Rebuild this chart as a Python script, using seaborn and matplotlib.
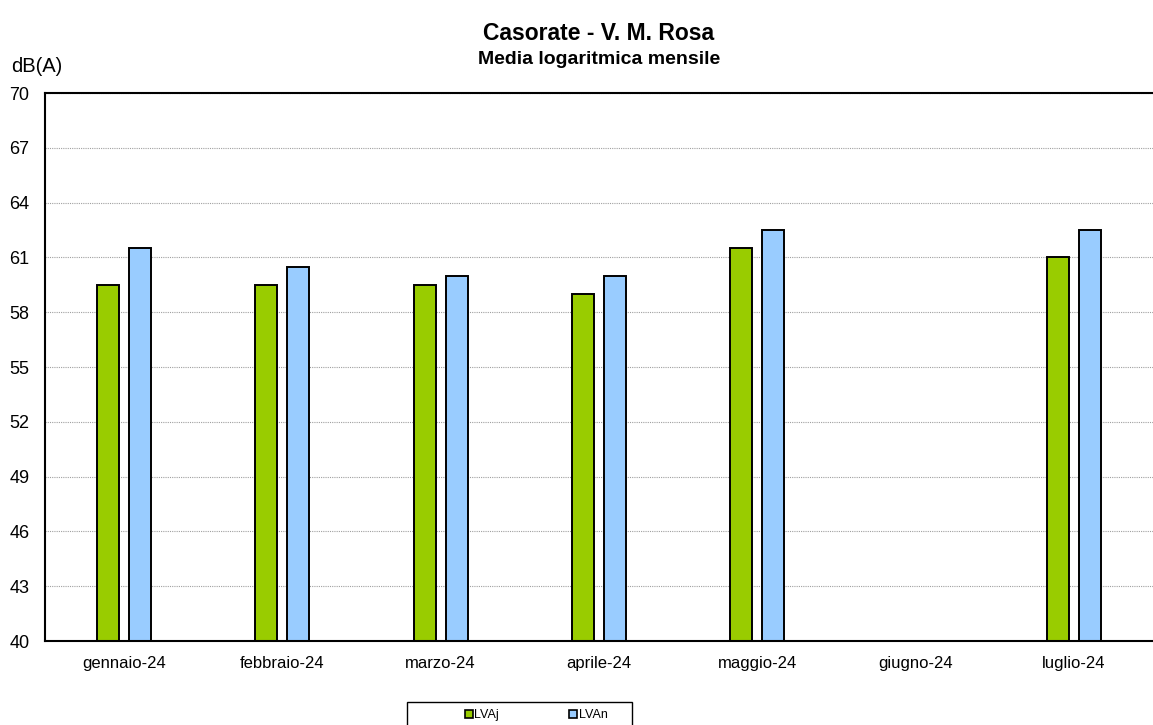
import pandas as pd
import numpy as np
import matplotlib
matplotlib.use('Agg')
import matplotlib.pyplot as plt
import matplotlib.patches as mpatches
import seaborn as sns
from matplotlib.ticker import FixedLocator

months = ['gennaio-24', 'febbraio-24', 'marzo-24', 'aprile-24', 'maggio-24', 'giugno-24', 'luglio-24']
lvaj = [59.5, 59.5, 59.5, 59.0, 61.5, np.nan, 61.0]
lvan = [61.5, 60.5, 60.0, 60.0, 62.5, np.nan, 62.5]
yticks = [40, 43, 46, 49, 52, 55, 58, 61, 64, 67, 70]

df = pd.DataFrame({
    'Mese': months * 2,
    'Serie': ['LVAj'] * len(months) + ['LVAn'] * len(months),
    'Valore': lvaj + lvan,
})

sns.set_theme(style='white')
plt.rcParams['font.family'] = ['Liberation Sans', 'DejaVu Sans']
plt.rcParams['text.color'] = 'black'
plt.rcParams['xtick.color'] = 'black'
plt.rcParams['ytick.color'] = 'black'

W, H = 1153, 725
fig = plt.figure(figsize=(W / 100, H / 100), dpi=100)
ax = fig.add_axes([45 / W, 1 - 641 / H, 1 - 45 / W, 548 / H])

# bars drawn from 0, the y range starts at 40 so they get clipped there
sns.barplot(data=df, x='Mese', y='Valore', hue='Serie', order=months,
            palette={'LVAj': '#99cc00', 'LVAn': '#99ccff'}, saturation=1,
            width=0.404, gap=0.31, edgecolor='black', linewidth=1.4,
            ax=ax, legend=True)

ax.set_ylim(40, 70)
ax.set_xlim(-0.5, len(months) - 0.5)
ax.set_yticks(yticks)
ax.set_yticklabels([str(v) for v in yticks], fontsize=13)
ax.yaxis.grid(True, color='#a0a0a0', linestyle=(0, (1, 1)), linewidth=0.8)
ax.set_axisbelow(True)

ax.set_xticks(range(len(months)))
ax.set_xticklabels(months, fontsize=12)
ax.tick_params(axis='x', which='major', length=0, pad=11)
ax.xaxis.set_minor_locator(FixedLocator(np.arange(-0.5, len(months), 1.0)))
ax.tick_params(axis='x', which='minor', length=3.6, width=1, color='#666666', direction='out')
ax.tick_params(axis='y', length=3.6, width=1, color='#666666', direction='out', pad=7.5)
ax.set_xlabel('')
ax.set_ylabel('')

for side in ['left', 'bottom', 'top']:
    ax.spines[side].set_visible(True)
    ax.spines[side].set_color('black')
    ax.spines[side].set_linewidth(1.5)
ax.spines['right'].set_visible(False)

fig.text(11 / W, 1 - 67 / H, 'dB(A)', fontsize=14.5, va='center', ha='left')
fig.text(599 / W, 1 - 33 / H, 'Casorate - V. M. Rosa', fontsize=16.5,
         fontweight='bold', ha='center', va='center')
fig.text(599 / W, 1 - 59 / H, 'Media logaritmica mensile', fontsize=14,
         fontweight='bold', ha='center', va='center')

# legend box like the spreadsheet one, partly cut by the bottom edge
fig.patches.append(mpatches.Rectangle((407 / W, 1 - 735 / H), 225 / W, 33 / H,
                                      transform=fig.transFigure, fill=False,
                                      edgecolor='black', linewidth=1.0))
handles, labels = ax.get_legend_handles_labels()
ax.legend_.remove()
leg = fig.legend(handles, labels, loc='center left', bbox_to_anchor=(465 / W, 1 - 715 / H),
                 ncol=2, fontsize=9, frameon=False,
                 handlelength=0.6, handleheight=0.6, handletextpad=0.15,
                 columnspacing=5.6, borderpad=0, borderaxespad=0)
for h in leg.legend_handles:
    h.set_linewidth(1.2)

fig.savefig('out.png', dpi=100)
